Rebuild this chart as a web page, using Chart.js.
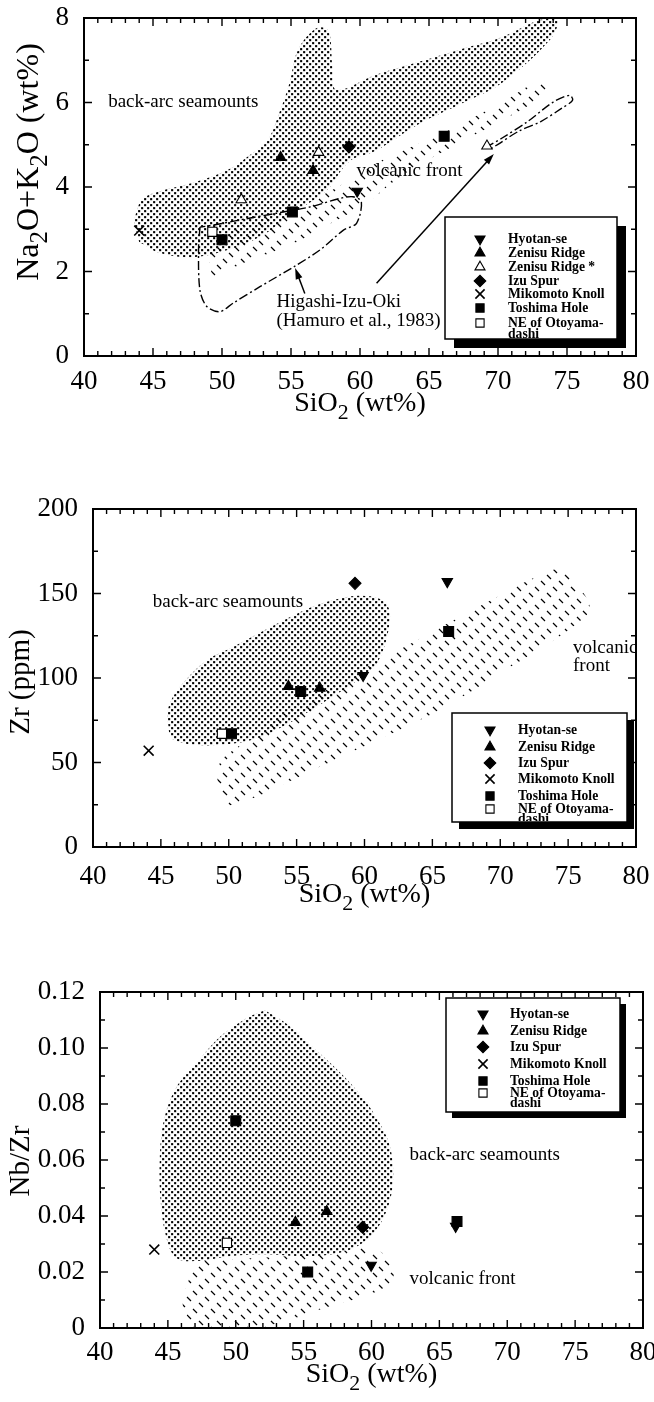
<!DOCTYPE html>
<html>
<head>
<meta charset="utf-8">
<script src="https://cdn.jsdelivr.net/npm/chart.js@4.4.0/dist/chart.umd.min.js"></script>
<style>
  html, body { margin: 0; padding: 0; background: #fff; }
  canvas { display: block; }
</style>
</head>
<body>
<canvas id="c1" width="654" height="460"></canvas>
<canvas id="c2" width="654" height="470"></canvas>
<canvas id="c3" width="654" height="472"></canvas>
<script>
const FONT = "'Liberation Serif', 'Times New Roman', serif";

// shared x axis
const siTicks = [40, 45, 50, 55, 60, 65, 70, 75, 80];

// ---- panel 1: Na2O+K2O vs SiO2
const alkTicks = [0, 2, 4, 6, 8];
const alkHyotan = [[59.8, 3.9]];
const alkZenisu = [[54.25, 4.7], [56.6, 4.39]];
const alkZenisuStar = [[57.0, 4.82], [51.4, 3.7], [69.2, 4.97]];
const alkIzu = [[59.2, 4.95]];
const alkMikomoto = [[44.0, 2.97]];
const alkToshima = [[55.1, 3.41], [50.0, 2.75], [66.1, 5.2]];
const alkOtoyama = [[49.3, 2.94]];

const alkBackArc = [[43.6, 3.2], [44.2, 3.7], [45.5, 3.9], [47.9, 4.1], [50.4, 4.4], [52.2, 4.8], [53.3, 5.1],
  [54.2, 5.8], [54.9, 6.47], [55.5, 7.24], [56.8, 7.75], [57.7, 7.71], [58.0, 6.86], [58.3, 6.3], [61.1, 6.65],
  [64.15, 6.95], [67.2, 7.25], [70.3, 7.55], [73.0, 7.95], [74.3, 7.95], [73.8, 7.5], [70.3, 6.47], [67.2, 5.95],
  [64.15, 5.47], [61.1, 4.85], [59.2, 4.6], [57.6, 3.93], [55.15, 3.38], [52.75, 2.82], [50.4, 2.51],
  [47.9, 2.34], [45.5, 2.44], [44.0, 2.7]];
const alkFront = [[48.9, 2.54], [51.85, 3.16], [54.9, 3.47], [58.0, 3.93], [61.1, 4.55], [64.15, 5.01],
  [67.2, 5.47], [70.3, 6.01], [73.1, 6.51], [73.85, 6.32], [71.85, 5.86], [68.8, 5.32], [65.7, 4.78],
  [62.9, 4.24], [60.5, 3.62], [58.0, 3.16], [54.9, 2.62], [51.85, 2.24], [49.3, 1.85]];
const alkHigashiA = [[48.4, 3.05], [48.3, 2.51], [48.4, 1.56], [48.9, 1.17], [49.85, 1.05], [50.8, 1.25],
  [52.75, 1.64], [55.2, 2.11], [57.1, 2.51], [58.8, 2.98], [59.75, 3.14], [60.1, 3.65], [59.5, 3.77],
  [58.55, 3.73], [56.4, 3.53], [53.95, 3.38], [51.3, 3.22], [49.4, 3.1], [48.4, 3.05]];
const alkHigashiB = [[69.1, 4.93], [70.3, 5.16], [72.15, 5.55], [74.0, 6.01], [75.2, 6.17], [75.4, 6.05],
  [74.6, 5.86], [73.1, 5.55], [71.5, 5.32], [70.0, 5.01], [69.4, 4.89]];
const alkArrows = [[[56.0, 1.48], [55.3, 2.08]], [[61.2, 1.72], [69.7, 4.78]]];
const alkNotes = ['back-arc seamounts', 'volcanic front', 'Higashi-Izu-Oki', '(Hamuro et al., 1983)'];

// ---- panel 2: Zr vs SiO2
const zrTicks = [0, 50, 100, 150, 200];
const zrHyotan = [[66.1, 157], [59.9, 101.5]];
const zrZenisu = [[54.4, 95], [56.7, 94]];
const zrIzu = [[59.3, 156]];
const zrMikomoto = [[44.1, 57]];
const zrToshima = [[55.3, 92], [50.2, 67], [66.2, 127.5]];
const zrOtoyama = [[49.5, 67]];

const zrBackArc = [[45.6, 68], [45.5, 80], [45.9, 89], [46.85, 99], [48.4, 110.6], [50.25, 118], [52.1, 126],
  [53.95, 133.7], [55.8, 141], [57.65, 146], [59.5, 148.7], [61.05, 147], [61.8, 141], [61.8, 130],
  [61.35, 116], [60.7, 106.7], [59.2, 97], [57.0, 85.6], [54.6, 74], [52.1, 64.4], [49.6, 60.6],
  [47.2, 60.6], [45.9, 63.5]];
const zrFront = [[49.2, 33.7], [49.3, 49], [50.9, 60.6], [54.6, 81.7], [57.65, 95], [60.7, 108.7], [63.8, 122],
  [66.9, 135.6], [70.0, 149], [73.1, 161.5], [74.6, 164.4], [75.55, 156.7], [76.6, 141.3], [75.55, 131.7],
  [73.1, 118], [70.0, 103], [66.9, 87.5], [63.8, 74], [60.7, 62.5], [57.65, 51], [54.6, 39.4], [51.5, 27.9],
  [49.8, 24]];
const zrNotes = ['back-arc seamounts', 'volcanic', 'front'];

// ---- panel 3: Nb/Zr vs SiO2
const nbTicks = [0, 0.02, 0.04, 0.06, 0.08, 0.10, 0.12];
const nbHyotan = [[59.97, 0.0224], [66.2, 0.0363]];
const nbZenisu = [[54.4, 0.0377], [56.7, 0.0416]];
const nbIzu = [[59.35, 0.036]];
const nbMikomoto = [[44.0, 0.028]];
const nbToshima = [[66.3, 0.038], [55.3, 0.020], [50.0, 0.074]];
const nbOtoyama = [[49.35, 0.0304]];

const nbBackArc = [[52.14, 0.1135], [53.7, 0.1088], [55.2, 0.1023], [57.1, 0.094], [58.95, 0.0846],
  [60.35, 0.0752], [61.3, 0.0658], [61.6, 0.0552], [61.3, 0.0445], [60.35, 0.0351], [58.95, 0.0292],
  [57.1, 0.0263], [54.6, 0.0257], [52.14, 0.0263], [49.66, 0.0257], [47.2, 0.0239], [45.6, 0.0251],
  [44.86, 0.0328], [44.46, 0.0457], [44.4, 0.0599], [44.7, 0.074], [45.6, 0.0858], [47.2, 0.0952],
  [49.0, 0.1047], [50.9, 0.1111]];
const nbFront = [[46.9, 0.0004], [46.1, 0.008], [46.56, 0.0174], [47.2, 0.0233], [49.66, 0.0245],
  [54.0, 0.0257], [57.1, 0.0269], [59.57, 0.0286], [60.96, 0.0263], [61.67, 0.021], [61.27, 0.0157],
  [59.57, 0.0115], [57.1, 0.008], [54.6, 0.0039], [52.14, 0.0004]];
const nbNotes = ['back-arc seamounts', 'volcanic front'];

// marker styles
const STY = {
  hyotan:  { style: 'triangle', rot: 180, r: 6, fill: '#000' },
  zenisu:  { style: 'triangle', rot: 0, r: 6, fill: '#000' },
  zenisuS: { style: 'triangle', rot: 0, r: 6, fill: '#fff' },
  izu:     { style: 'rectRot', rot: 0, r: 6, fill: '#000' },
  miko:    { style: 'crossRot', rot: 0, r: 7, fill: '#000' },
  toshima: { style: 'rect', rot: 0, r: 7, fill: '#000' },
  otoyama: { style: 'rect', rot: 0, r: 6.5, fill: '#fff' }
};

function stipple() {
  const t = document.createElement('canvas');
  t.width = 6; t.height = 6;
  const c = t.getContext('2d');
  c.fillStyle = '#000';
  c.fillRect(0.1, 0.1, 2.1, 2.1);
  c.fillRect(3.1, 3.1, 2.1, 2.1);
  return c.createPattern(t, 'repeat');
}

function hatch() {
  // short "\" dashes lined up along "/" rows
  const t = document.createElement('canvas');
  t.width = 18; t.height = 18;
  const c = t.getContext('2d');
  c.strokeStyle = '#000';
  c.lineWidth = 1.2;
  c.beginPath();
  [[3, 15], [9, 9], [15, 3]].forEach(([cx, cy]) => {
    c.moveTo(cx - 2, cy - 2); c.lineTo(cx + 2, cy + 2);
  });
  c.stroke();
  return c.createPattern(t, 'repeat');
}

const pts = arr => arr.map(([x, y]) => ({ x, y }));

function richText(ctx, parts, size) {
  let w = 0;
  parts.forEach(([t, sub]) => {
    ctx.font = `${sub ? size * 0.78 : size}px ${FONT}`;
    w += ctx.measureText(t).width;
  });
  let x = -w / 2;
  parts.forEach(([t, sub]) => {
    ctx.font = `${sub ? size * 0.78 : size}px ${FONT}`;
    ctx.fillText(t, x, sub ? size * 0.33 : 0);
    x += ctx.measureText(t).width;
  });
}

function marker(ctx, key, r, x, y) {
  const s = STY[key];
  ctx.fillStyle = s.fill;
  ctx.strokeStyle = '#000';
  ctx.lineWidth = s.style === 'crossRot' ? 1.6 : 1.1;
  Chart.helpers.drawPoint(ctx, { pointStyle: s.style, rotation: s.rot, radius: r, borderWidth: ctx.lineWidth }, x, y);
}

function buildPanel(id, p) {
  const canvas = document.getElementById(id);
  const H = canvas.height;
  const datasets = [];

  p.series.forEach(s => {
    const st = STY[s.key];
    datasets.push({
      type: 'scatter', label: s.name, data: pts(s.data), order: 0,
      pointStyle: st.style, pointRotation: st.rot, pointRadius: st.r,
      backgroundColor: st.fill, borderColor: '#000',
      borderWidth: st.style === 'crossRot' ? 1.6 : 1.1
    });
  });
  p.fields.forEach(f => {
    datasets.push({
      type: 'line', data: pts(f.data), order: 10, fill: 'shape',
      backgroundColor: f.pattern, borderColor: 'rgba(0,0,0,0)', borderWidth: 0,
      pointRadius: 0, tension: 0.35
    });
  });
  (p.outlines || []).forEach(d => {
    datasets.push({
      type: 'line', data: pts(d), order: 5, fill: false,
      borderColor: '#000', borderWidth: 1.4, borderDash: [9, 3, 2, 3],
      pointRadius: 0, tension: 0.3
    });
  });

  const deco = {
    id: 'deco',
    afterDatasetsDraw(chart) {
      const { ctx, chartArea: a, scales: { x, y } } = chart;
      ctx.save();
      ctx.fillStyle = '#000';
      ctx.strokeStyle = '#000';

      // notes
      ctx.font = `19px ${FONT}`;
      ctx.textBaseline = 'middle';
      ctx.textAlign = 'left';
      p.notes.forEach((t, i) => {
        const [vx, vy] = p.noteAt[i];
        ctx.fillText(t, x.getPixelForValue(vx), y.getPixelForValue(vy));
      });

      // arrows
      (p.arrows || []).forEach(([from, to]) => {
        const x0 = x.getPixelForValue(from[0]), y0 = y.getPixelForValue(from[1]);
        const x1 = x.getPixelForValue(to[0]), y1 = y.getPixelForValue(to[1]);
        const ang = Math.atan2(y1 - y0, x1 - x0);
        ctx.lineWidth = 1.5;
        ctx.beginPath();
        ctx.moveTo(x0, y0);
        ctx.lineTo(x1 - 8 * Math.cos(ang), y1 - 8 * Math.sin(ang));
        ctx.stroke();
        ctx.beginPath();
        ctx.moveTo(x1, y1);
        ctx.lineTo(x1 - 11 * Math.cos(ang) + 3.5 * Math.sin(ang), y1 - 11 * Math.sin(ang) - 3.5 * Math.cos(ang));
        ctx.lineTo(x1 - 11 * Math.cos(ang) - 3.5 * Math.sin(ang), y1 - 11 * Math.sin(ang) + 3.5 * Math.cos(ang));
        ctx.closePath();
        ctx.fill();
      });

      // frame + inward ticks on all four sides
      ctx.lineWidth = 2;
      ctx.strokeRect(a.left, a.top, a.right - a.left, a.bottom - a.top);
      ctx.lineWidth = 1.4;
      ctx.beginPath();
      for (let v = x.min; v <= x.max + 1e-9; v += 1) {
        const px = x.getPixelForValue(v);
        const len = Math.round(v) % 5 === 0 ? 8 : 5;
        ctx.moveTo(px, a.bottom); ctx.lineTo(px, a.bottom - len);
        ctx.moveTo(px, a.top); ctx.lineTo(px, a.top + len);
      }
      const n = Math.round((y.max - y.min) / p.yMinor);
      for (let i = 0; i <= n; i++) {
        const py = y.getPixelForValue(y.min + i * p.yMinor);
        const len = i % 2 === 0 ? 8 : 5;
        ctx.moveTo(a.left, py); ctx.lineTo(a.left + len, py);
        ctx.moveTo(a.right, py); ctx.lineTo(a.right - len, py);
      }
      ctx.stroke();

      // legend box with heavy shadow
      const b = p.legend;
      ctx.fillStyle = '#000';
      ctx.fillRect(b.left + b.shadow, b.top + b.shadow, b.right - b.left, b.bottom - b.top);
      ctx.fillStyle = '#fff';
      ctx.fillRect(b.left, b.top, b.right - b.left, b.bottom - b.top);
      ctx.lineWidth = 1.5;
      ctx.strokeRect(b.left, b.top, b.right - b.left, b.bottom - b.top);
      ctx.save();
      ctx.beginPath();
      ctx.rect(b.left + 1, b.top + 1, b.right - b.left - 2, b.bottom - b.top - 2);
      ctx.clip();
      p.series.forEach((s, i) => {
        marker(ctx, s.key, s.key === 'miko' ? 6.5 : 5.8, b.markX, b.rows[i]);
        ctx.fillStyle = '#000';
        ctx.font = `bold 15.5px ${FONT}`;
        ctx.textBaseline = 'middle';
        ctx.textAlign = 'left';
        s.name.split('\n').forEach((line, k) => {
          ctx.save();
          ctx.translate(b.textX, b.rows[i] + k * b.gap);
          ctx.scale(0.88, 1);
          ctx.fillText(line, 0, 0);
          ctx.restore();
        });
      });
      ctx.restore();

      // axis titles
      ctx.fillStyle = '#000';
      ctx.textBaseline = 'middle';
      ctx.textAlign = 'left';
      ctx.save();
      ctx.translate((a.left + a.right) / 2, a.bottom + p.xTitleDy);
      richText(ctx, [['SiO', 0], ['2', 1], [' (wt%)', 0]], 28);
      ctx.restore();
      ctx.save();
      ctx.translate(p.yTitleX, p.yTitleY);
      ctx.rotate(-Math.PI / 2);
      richText(ctx, p.yTitle, p.yTitleSize);
      ctx.restore();

      ctx.restore();
    }
  };

  new Chart(canvas, {
    type: 'scatter',
    data: { datasets },
    plugins: [deco],
    options: {
      responsive: false,
      animation: false,
      events: [],
      layout: { padding: { left: 0, top: p.area.top, right: 654 - p.area.right, bottom: 0 } },
      plugins: { legend: { display: false }, tooltip: { enabled: false } },
      scales: {
        x: {
          type: 'linear', min: 40, max: 80,
          grid: { display: false, drawTicks: false },
          border: { display: false },
          ticks: { color: '#000', font: { family: FONT, size: 27 }, padding: p.xPad, autoSkip: false, maxRotation: 0 },
          afterBuildTicks: s => { s.ticks = siTicks.map(v => ({ value: v })); },
          afterFit: s => { s.height = H - p.area.bottom; s.paddingLeft = 0; s.paddingRight = 0; }
        },
        y: {
          type: 'linear', min: p.yTicks[0], max: p.yTicks[p.yTicks.length - 1],
          grid: { display: false, drawTicks: false },
          border: { display: false },
          ticks: { color: '#000', font: { family: FONT, size: 27 }, padding: 15, callback: p.yFmt },
          afterBuildTicks: s => { s.ticks = p.yTicks.map(v => ({ value: v })); },
          afterFit: s => { s.width = p.area.left; s.paddingTop = 0; s.paddingBottom = 0; }
        }
      }
    }
  });
}

const names = {
  hyotan: 'Hyotan-se', zenisu: 'Zenisu Ridge', zenisuS: 'Zenisu Ridge *', izu: 'Izu Spur',
  miko: 'Mikomoto Knoll', toshima: 'Toshima Hole', otoyama: 'NE of Otoyama-\ndashi'
};

buildPanel('c1', {
  area: { left: 84, top: 18, right: 636, bottom: 356 },
  xPad: 10, xTitleDy: 48,
  yTicks: alkTicks, yMinor: 1, yFmt: v => String(v),
  yTitle: [['Na', 0], ['2', 1], ['O+K', 0], ['2', 1], ['O (wt%)', 0]], yTitleSize: 32, yTitleX: 30, yTitleY: 162,
  series: [
    { key: 'hyotan', name: names.hyotan, data: alkHyotan },
    { key: 'zenisu', name: names.zenisu, data: alkZenisu },
    { key: 'zenisuS', name: names.zenisuS, data: alkZenisuStar },
    { key: 'izu', name: names.izu, data: alkIzu },
    { key: 'miko', name: names.miko, data: alkMikomoto },
    { key: 'toshima', name: names.toshima, data: alkToshima },
    { key: 'otoyama', name: names.otoyama, data: alkOtoyama }
  ],
  fields: [{ data: alkBackArc, pattern: stipple() }, { data: alkFront, pattern: hatch() }],
  outlines: [alkHigashiA, alkHigashiB],
  arrows: alkArrows,
  notes: alkNotes,
  noteAt: [[41.75, 6.0], [59.75, 4.37], [53.95, 1.27], [53.95, 0.83]],
  legend: { left: 445, top: 217, right: 617, bottom: 339, shadow: 9, markX: 480, textX: 508, gap: 11,
            rows: [239, 253, 267, 281, 294, 308, 323] }
});

buildPanel('c2', {
  area: { left: 93, top: 49, right: 636, bottom: 387 },
  xPad: 14, xTitleDy: 48,
  yTicks: zrTicks, yMinor: 25, yFmt: v => String(v),
  yTitle: [['Zr (ppm)', 0]], yTitleSize: 29, yTitleX: 21, yTitleY: 222,
  series: [
    { key: 'hyotan', name: names.hyotan, data: zrHyotan },
    { key: 'zenisu', name: names.zenisu, data: zrZenisu },
    { key: 'izu', name: names.izu, data: zrIzu },
    { key: 'miko', name: names.miko, data: zrMikomoto },
    { key: 'toshima', name: names.toshima, data: zrToshima },
    { key: 'otoyama', name: names.otoyama, data: zrOtoyama }
  ],
  fields: [{ data: zrBackArc, pattern: stipple() }, { data: zrFront, pattern: hatch() }],
  notes: zrNotes,
  noteAt: [[44.4, 145], [75.36, 118], [75.36, 106.8]],
  legend: { left: 452, top: 253, right: 627, bottom: 362, shadow: 7, markX: 490, textX: 518, gap: 10,
            rows: [270, 287, 303, 319, 336, 349] }
});

buildPanel('c3', {
  area: { left: 100, top: 62, right: 643, bottom: 398 },
  xPad: 9, xTitleDy: 47,
  yTicks: nbTicks, yMinor: 0.01, yFmt: v => (v === 0 ? '0' : v.toFixed(2)),
  yTitle: [['Nb/Zr', 0]], yTitleSize: 29, yTitleX: 21, yTitleY: 231,
  series: [
    { key: 'hyotan', name: names.hyotan, data: nbHyotan },
    { key: 'zenisu', name: names.zenisu, data: nbZenisu },
    { key: 'izu', name: names.izu, data: nbIzu },
    { key: 'miko', name: names.miko, data: nbMikomoto },
    { key: 'toshima', name: names.toshima, data: nbToshima },
    { key: 'otoyama', name: names.otoyama, data: nbOtoyama }
  ],
  fields: [{ data: nbBackArc, pattern: stipple() }, { data: nbFront, pattern: hatch() }],
  notes: nbNotes,
  noteAt: [[62.8, 0.0618], [62.8, 0.0176]],
  legend: { left: 446, top: 68, right: 620, bottom: 182, shadow: 6, markX: 483, textX: 510, gap: 10,
            rows: [84, 101, 117, 134, 151, 163] }
});
</script>
</body>
</html>
